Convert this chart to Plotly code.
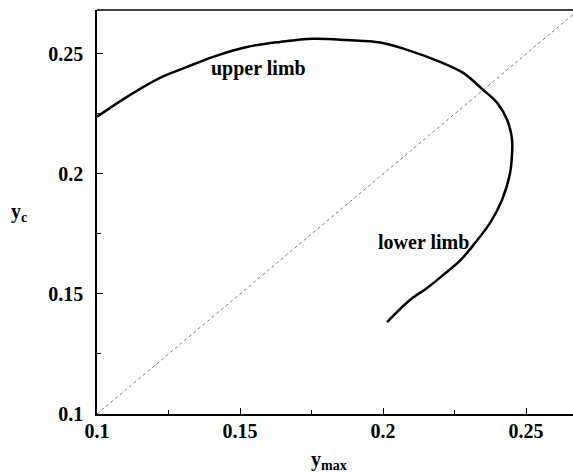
import plotly.graph_objects as go

# curve y_c vs y_max (traced)
ymax = [0.1000, 0.1105, 0.1220, 0.1315, 0.1406, 0.1524, 0.1640, 0.1755, 0.1874, 0.1990,
        0.2084, 0.2199, 0.2280, 0.2350, 0.2399, 0.2434, 0.2451, 0.2451, 0.2444, 0.2416,
        0.2374, 0.2320, 0.2270, 0.2210, 0.2154, 0.2094, 0.2014]
yc = [0.2238, 0.2321, 0.2400, 0.2446, 0.2488, 0.2529, 0.2550, 0.2563, 0.2558, 0.2548,
      0.2517, 0.2467, 0.2421, 0.2350, 0.2296, 0.2225, 0.2142, 0.2088, 0.2004, 0.1892,
      0.1796, 0.1710, 0.1640, 0.1579, 0.1525, 0.1475, 0.1383]
diag = [0.1, 0.27]
tickvals = [0.1, 0.15, 0.2, 0.25]
ticktext = ["0.1", "0.15", "0.2", "0.25"]

FONT = "Liberation Serif, Times New Roman, DejaVu Serif, serif"

fig = go.Figure()
fig.add_trace(go.Scatter(x=diag, y=diag, mode="lines",
                         line=dict(color="#777", width=1, dash="dot"), hoverinfo="skip"))
fig.add_trace(go.Scatter(x=ymax, y=yc, mode="lines",
                         line=dict(color="black", width=2.5, shape="spline", smoothing=1.0)))

fig.add_annotation(x=0.1563, y=0.2438, text="<b>upper limb</b>", showarrow=False,
                   font=dict(family=FONT, size=20, color="black"))
fig.add_annotation(x=0.2140, y=0.1717, text="<b>lower limb</b>", showarrow=False,
                   font=dict(family=FONT, size=20, color="black"))
fig.add_annotation(x=0.5, y=-0.152, xref="paper", yref="paper", xshift=-6,
                   text="<b>y<sub>max</sub></b>", showarrow=False,
                   font=dict(family=FONT, size=20, color="black"))
fig.add_annotation(x=-0.185, y=0.5, xref="paper", yref="paper", xanchor="left",
                   text="<b>y<sub>c</sub></b>", showarrow=False,
                   font=dict(family=FONT, size=20, color="black"))
fig.add_shape(type="line", xref="paper", yref="paper", x0=0, x1=1, y0=1, y1=1,
              line=dict(color="black", width=1.5))

axis_common = dict(
    tickvals=tickvals, ticktext=["<b>%s</b>" % t for t in ticktext],
    ticks="inside", ticklen=6, tickcolor="black", showgrid=False, zeroline=False,
    showline=True, linecolor="black", linewidth=1.5,
    tickfont=dict(family=FONT, size=20, color="black"),
    minor=dict(tickvals=[0.125, 0.175, 0.225], ticks="inside", ticklen=4, tickcolor="black"),
)

fig.update_layout(
    width=573, height=472,
    margin=dict(l=97, r=0, t=10, b=58),
    plot_bgcolor="white", paper_bgcolor="white",
    showlegend=False,
    font=dict(family=FONT, size=20, color="black"),
    xaxis=dict(range=[0.1, 0.2664], ticklabelstandoff=-2, **axis_common),
    yaxis=dict(range=[0.1, 0.2683], ticklabelstandoff=8, **axis_common),
)
fig.write_html("out.html")
